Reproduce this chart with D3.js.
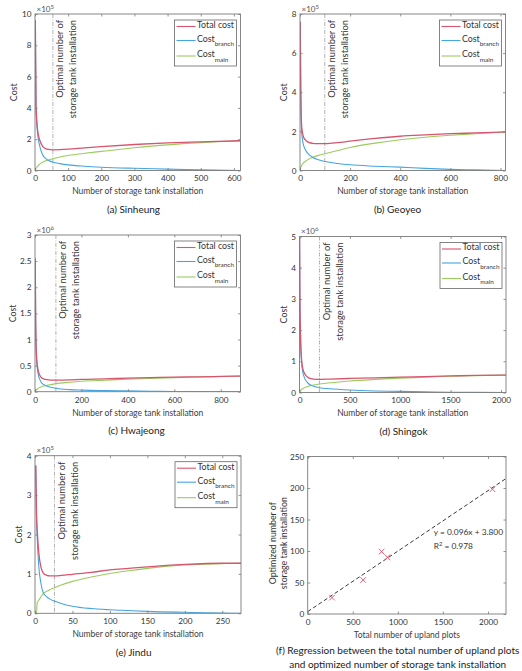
<!DOCTYPE html>
<html><head><meta charset="utf-8">
<script src="https://cdn.jsdelivr.net/npm/d3@7"></script>
<style>
body{margin:0;background:#fff;}
svg{display:block;font-family:Lato,"Open Sans",sans-serif;}
</style></head><body>
<svg id="chart" width="522" height="671"></svg>
<script>
// ---------------- DATA ----------------
const legendLabels = [["Total cost",""],["Cost","branch"],["Cost","main"]];

// (a) Sinheung  (cost in x10^5)
const sinheungX      = [1, 3, 6, 10, 15, 22, 30, 40, 54, 75, 100, 150, 200, 300, 400, 500, 620];
const sinheungTotal  = [9.6, 4.3, 3.0, 2.3, 1.9, 1.57, 1.42, 1.35, 1.32, 1.33, 1.36, 1.45, 1.53, 1.66, 1.76, 1.83, 1.9];
const sinheungBranch = [9.6, 4.2, 2.8, 2.0, 1.5, 1.05, 0.8, 0.65, 0.53, 0.44, 0.36, 0.27, 0.21, 0.14, 0.09, 0.04, 0.0];
const sinheungMain   = [0.02, 0.12, 0.22, 0.32, 0.42, 0.52, 0.6, 0.67, 0.75, 0.86, 0.96, 1.1, 1.22, 1.45, 1.64, 1.78, 1.9];
const sinheungOptimal = 54;
const sinheungXDomain = [0, 620];
const sinheungXTicks = [0, 100, 200, 300, 400, 500, 600];
const sinheungYTicks = [0, 2, 4, 6, 8, 10];
const sinheungExp = "5";

// (b) Geoyeo (x10^5)
const geoyeoX      = [1, 3, 7, 13, 20, 33, 50, 70, 100, 150, 200, 300, 400, 500, 600, 700, 820];
const geoyeoTotal  = [7.6, 4.1, 2.2, 1.75, 1.58, 1.45, 1.39, 1.37, 1.37, 1.42, 1.5, 1.64, 1.75, 1.82, 1.88, 1.92, 1.97];
const geoyeoBranch = [7.6, 4.0, 1.9, 1.35, 1.1, 0.85, 0.68, 0.56, 0.46, 0.36, 0.29, 0.22, 0.17, 0.11, 0.06, 0.03, 0.0];
const geoyeoMain   = [0.05, 0.15, 0.27, 0.38, 0.45, 0.57, 0.67, 0.76, 0.86, 1.02, 1.18, 1.4, 1.57, 1.7, 1.8, 1.88, 1.97];
const geoyeoOptimal = 99;
const geoyeoXDomain = [0, 820];
const geoyeoXTicks = [0, 200, 400, 600, 800];
const geoyeoYTicks = [0, 2, 4, 6, 8];
const geoyeoExp = "5";

// (c) Hwajeong (x10^6)
const hwajeongX      = [1, 3, 7, 14, 20, 30, 50, 90, 150, 200, 300, 400, 500, 600, 700, 800, 885];
const hwajeongTotal  = [2.55, 1.32, 0.64, 0.4, 0.32, 0.26, 0.23, 0.22, 0.225, 0.235, 0.245, 0.26, 0.27, 0.28, 0.285, 0.292, 0.3];
const hwajeongBranch = [2.55, 1.3, 0.6, 0.33, 0.24, 0.16, 0.11, 0.065, 0.04, 0.03, 0.02, 0.015, 0.01, 0.005, 0.003, 0.001, 0.0];
const hwajeongMain   = [0.0, 0.02, 0.04, 0.065, 0.08, 0.1, 0.12, 0.155, 0.18, 0.2, 0.22, 0.24, 0.255, 0.27, 0.28, 0.29, 0.3];
const hwajeongOptimal = 90;
const hwajeongXDomain = [0, 885];
const hwajeongXTicks = [0, 200, 400, 600, 800];
const hwajeongYTicks = [0, 0.5, 1, 1.5, 2, 2.5, 3];
const hwajeongExp = "6";

// (d) Shingok (x10^6)
const shingokX      = [1, 4, 10, 20, 40, 90, 140, 200, 300, 500, 750, 1000, 1250, 1500, 1750, 2050];
const shingokTotal  = [4.95, 3.0, 1.85, 1.08, 0.68, 0.47, 0.43, 0.42, 0.43, 0.45, 0.47, 0.49, 0.51, 0.53, 0.55, 0.56];
const shingokBranch = [4.95, 3.0, 1.8, 1.0, 0.55, 0.28, 0.2, 0.15, 0.12, 0.08, 0.05, 0.035, 0.02, 0.01, 0.005, 0.0];
const shingokMain   = [0.0, 0.03, 0.06, 0.1, 0.14, 0.2, 0.24, 0.27, 0.31, 0.37, 0.42, 0.46, 0.49, 0.52, 0.54, 0.56];
const shingokOptimal = 198;
const shingokXDomain = [0, 2050];
const shingokXTicks = [0, 500, 1000, 1500, 2000];
const shingokYTicks = [0, 1, 2, 3, 4, 5];
const shingokExp = "6";

// (e) Jindu (x10^5)
const jinduX      = [1, 2, 3, 5, 8, 11, 15, 20, 26, 35, 50, 75, 100, 125, 150, 200, 250, 275];
const jinduTotal  = [3.75, 2.5, 2.1, 1.55, 1.17, 1.02, 0.97, 0.95, 0.95, 0.96, 0.99, 1.04, 1.1, 1.14, 1.18, 1.24, 1.27, 1.27];
const jinduBranch = [3.75, 2.5, 1.9, 1.2, 0.75, 0.52, 0.43, 0.36, 0.31, 0.25, 0.18, 0.12, 0.09, 0.07, 0.05, 0.025, 0.005, 0.0];
const jinduMain   = [0.0, 0.0, 0.28, 0.33, 0.42, 0.5, 0.55, 0.6, 0.65, 0.72, 0.81, 0.92, 1.01, 1.08, 1.14, 1.23, 1.26, 1.27];
const jinduOptimal = 26;
const jinduXDomain = [0, 275];
const jinduXTicks = [0, 50, 100, 150, 200, 250];
const jinduYTicks = [0, 1, 2, 3, 4];
const jinduExp = "5";

// (f) Regression
const uplandPlots    = [270, 615, 820, 885, 2050];
const optimizedTanks = [26, 54, 99, 90, 198];
const regSlope = 0.096, regIntercept = 3.8;
const regXDomain = [0, 2200];
const regYDomain = [0, 250];
const regXTicks = [0, 500, 1000, 1500, 2000];
const regYTicks = [0, 50, 100, 150, 200, 250];

// ---------------- STYLE / LAYOUT ----------------
const colTotal = "#d8556e", colBranch = "#45a5e0", colMain = "#9bcb5f";
const axisCol = "#7a7a7a", textCol = "#333";
const svg = d3.select("#chart");
const fmt = d3.format("~g");

function drawAxesBox(g, x, y, box, xTicks, yTicks) {
  const tk = 2.5;
  g.append("g").attr("transform", `translate(0,${box.y1})`)
    .call(d3.axisBottom(x).tickValues(xTicks).tickSize(-tk).tickPadding(5).tickFormat(fmt));
  g.append("g").attr("transform", `translate(0,${box.y0})`)
    .call(d3.axisTop(x).tickValues(xTicks).tickSize(-tk).tickFormat(""));
  g.append("g").attr("transform", `translate(${box.x0},0)`)
    .call(d3.axisLeft(y).tickValues(yTicks).tickSize(-tk).tickPadding(3.5).tickFormat(fmt));
  g.append("g").attr("transform", `translate(${box.x1},0)`)
    .call(d3.axisRight(y).tickValues(yTicks).tickSize(-tk).tickFormat(""));
  g.selectAll(".domain").remove();
  g.selectAll(".tick line").attr("stroke", axisCol).attr("stroke-width", 0.8);
  g.selectAll(".tick text").attr("fill", textCol).style("font-size", "8.2px").style("font-family", "Lato");
  g.append("rect").attr("x", box.x0).attr("y", box.y0)
    .attr("width", box.x1 - box.x0).attr("height", box.y1 - box.y0)
    .attr("fill", "none").attr("stroke", axisCol).attr("stroke-width", 0.9);
}

let clipId = 0;
function costPanel(p) {
  const b = p.box;
  const g = svg.append("g");
  const x = d3.scaleLinear().domain(p.xDomain).range([b.x0, b.x1]);
  const y = d3.scaleLinear().domain([p.yTicks[0], p.yTicks[p.yTicks.length-1]]).range([b.y1, b.y0]);
  const cid = "clip" + (clipId++);
  g.append("clipPath").attr("id", cid).append("rect")
    .attr("x", b.x0).attr("y", b.y0).attr("width", b.x1 - b.x0).attr("height", b.y1 - b.y0);

  // optimal line
  g.append("line").attr("x1", x(p.optimal)).attr("x2", x(p.optimal))
    .attr("y1", b.y0).attr("y2", b.y1)
    .attr("stroke", "#a8a8a8").attr("stroke-width", 0.9).attr("stroke-dasharray", "4,1.5,1,1.5");

  const line = d3.line().x(d => x(d[0])).y(d => y(d[1])).curve(d3.curveMonotoneX);
  const series = [[p.main, colMain, 1.1], [p.branch, colBranch, 1.1], [p.total, colTotal, 1.3]];
  series.forEach(([vals, c, w]) => {
    g.append("path").datum(p.xs.map((xx, i) => [xx, vals[i]]))
      .attr("clip-path", `url(#${cid})`)
      .attr("d", line).attr("fill", "none").attr("stroke", c).attr("stroke-width", w);
  });

  drawAxesBox(g, x, y, b, p.xTicks, p.yTicks);

  // multiplier
  const m = g.append("text").attr("x", b.x0 + 1.5).attr("y", b.y0 - 2.3)
    .attr("fill", "#555").style("font-size", "8px");
  m.append("tspan").text("\u00d710");
  m.append("tspan").attr("dy", -3.2).style("font-size", "6px").text(p.exp);

  // annotation
  const ax = x(p.optimal);
  [["Optimal number of", 7], ["storage tank installation", 19.8]].forEach(([t, dx]) => {
    g.append("text").attr("transform", `translate(${ax + dx},${b.y0 + 6}) rotate(-90)`)
      .attr("text-anchor", "end").attr("dominant-baseline", "central")
      .attr("fill", textCol).style("font-size", "9.4px").text(t);
  });

  // y label
  g.append("text").attr("transform", `translate(${p.yLabelX},${(b.y0 + b.y1) / 2}) rotate(-90)`)
    .attr("text-anchor", "middle").attr("dominant-baseline", "central")
    .attr("fill", textCol).style("font-size", "8.8px").text("Cost");
  // x label
  g.append("text").attr("x", (b.x0 + b.x1) / 2).attr("y", b.y1 + 23.8)
    .attr("text-anchor", "middle").attr("fill", "#404040").style("font-size", "8.5px")
    .text("Number of storage tank installation");
  // title
  g.append("text").attr("x", p.titleX).attr("y", b.y1 + 42.3)
    .attr("text-anchor", "middle").attr("fill", "#222").style("font-size", "10px").text(p.title);

  // legend
  const lw = 62, lh = 46, lx = b.x1 - 4 - lw, ly = b.y0 + 6;
  const lg = g.append("g");
  lg.append("rect").attr("x", lx).attr("y", ly).attr("width", lw).attr("height", lh)
    .attr("fill", "#fff").attr("stroke", "#666").attr("stroke-width", 0.8);
  const rows = [[colTotal, 6.5], [colBranch, 20.5], [colMain, 36]];
  rows.forEach(([c, dy], i) => {
    lg.append("line").attr("x1", lx + 2).attr("x2", lx + 21).attr("y1", ly + dy).attr("y2", ly + dy)
      .attr("stroke", c).attr("stroke-width", 1.1);
    const t = lg.append("text").attr("x", lx + 22.5).attr("y", ly + dy + 1.4)
      .attr("fill", textCol).style("font-size", "8.8px");
    t.append("tspan").text(legendLabels[i][0]);
    if (legendLabels[i][1]) t.append("tspan").attr("dy", 4.5).style("font-size", "6.4px").text(legendLabels[i][1]);
  });
}

costPanel({box:{x0:35,x1:240.5,y0:14,y1:170.5}, xs:sinheungX, total:sinheungTotal, branch:sinheungBranch, main:sinheungMain,
  optimal:sinheungOptimal, xDomain:sinheungXDomain, xTicks:sinheungXTicks, yTicks:sinheungYTicks, exp:sinheungExp,
  yLabelX:13.3, titleX:133.5, title:"(a) Sinheung"});
costPanel({box:{x0:300,x1:505.5,y0:14,y1:170.5}, xs:geoyeoX, total:geoyeoTotal, branch:geoyeoBranch, main:geoyeoMain,
  optimal:geoyeoOptimal, xDomain:geoyeoXDomain, xTicks:geoyeoXTicks, yTicks:geoyeoYTicks, exp:geoyeoExp,
  yLabelX:283.7, titleX:397.5, title:"(b) Geoyeo"});
costPanel({box:{x0:35,x1:240.5,y0:235,y1:391.7}, xs:hwajeongX, total:hwajeongTotal, branch:hwajeongBranch, main:hwajeongMain,
  optimal:hwajeongOptimal, xDomain:hwajeongXDomain, xTicks:hwajeongXTicks, yTicks:hwajeongYTicks, exp:hwajeongExp,
  yLabelX:12.7, titleX:136.5, title:"(c) Hwajeong"});
costPanel({box:{x0:299.5,x1:506,y0:236.5,y1:392.5}, xs:shingokX, total:shingokTotal, branch:shingokBranch, main:shingokMain,
  optimal:shingokOptimal, xDomain:shingokXDomain, xTicks:shingokXTicks, yTicks:shingokYTicks, exp:shingokExp,
  yLabelX:283.7, titleX:403.5, title:"(d) Shingok"});
costPanel({box:{x0:35,x1:241,y0:455.7,y1:613.3}, xs:jinduX, total:jinduTotal, branch:jinduBranch, main:jinduMain,
  optimal:jinduOptimal, xDomain:jinduXDomain, xTicks:jinduXTicks, yTicks:jinduYTicks, exp:jinduExp,
  yLabelX:18.3, titleX:133.7, title:"(e) Jindu"});

// ---------------- (f) regression ----------------
(function(){
  const b = {x0:307.7, x1:506, y0:456.5, y1:614};
  const g = svg.append("g");
  const x = d3.scaleLinear().domain(regXDomain).range([b.x0, b.x1]);
  const y = d3.scaleLinear().domain(regYDomain).range([b.y1, b.y0]);
  g.append("line").attr("x1", x(regXDomain[0])).attr("y1", y(regSlope*regXDomain[0]+regIntercept))
    .attr("x2", x(regXDomain[1])).attr("y2", y(regSlope*regXDomain[1]+regIntercept))
    .attr("stroke", "#222").attr("stroke-width", 0.9).attr("stroke-dasharray", "4,2.5");
  const s = 2.8;
  uplandPlots.forEach((px, i) => {
    const cx = x(px), cy = y(optimizedTanks[i]);
    g.append("path").attr("d", `M${cx-s},${cy-s}L${cx+s},${cy+s}M${cx-s},${cy+s}L${cx+s},${cy-s}`)
      .attr("stroke", "#e0506a").attr("stroke-width", 0.9).attr("fill", "none");
  });
  drawAxesBox(g, x, y, b, regXTicks, regYTicks);
  g.append("text").attr("x", 433.7).attr("y", 534.7).attr("fill", textCol).style("font-size", "8.4px")
    .text("y = 0.096x + 3.800");
  const r = g.append("text").attr("x", 433.7).attr("y", 549.2).attr("fill", textCol).style("font-size", "8.4px");
  r.append("tspan").text("R");
  r.append("tspan").attr("dy", -3.2).style("font-size", "5.8px").text("2");
  r.append("tspan").attr("dy", 3.2).text(" = 0.978");
  [["Optimized number of", 272.7], ["storage tank installation", 283.9]].forEach(([t, xx]) => {
    g.append("text").attr("transform", `translate(${xx},${(b.y0 + b.y1) / 2 + 8}) rotate(-90)`)
      .attr("text-anchor", "middle").attr("dominant-baseline", "central")
      .attr("fill", textCol).style("font-size", "8.8px").text(t);
  });
  g.append("text").attr("x", (b.x0 + b.x1) / 2).attr("y", b.y1 + 23.8).attr("text-anchor", "middle")
    .attr("fill", "#404040").style("font-size", "8.5px").text("Total number of upland plots");
  g.append("text").attr("x", 397.7).attr("y", 654.3).attr("text-anchor", "middle")
    .attr("fill", "#222").style("font-size", "10px").text("(f) Regression between the total number of upland plots");
  g.append("text").attr("x", 397.7).attr("y", 667.6).attr("text-anchor", "middle")
    .attr("fill", "#222").style("font-size", "10px").text("and optimized number of storage tank installation");
})();
</script>
</body></html>
